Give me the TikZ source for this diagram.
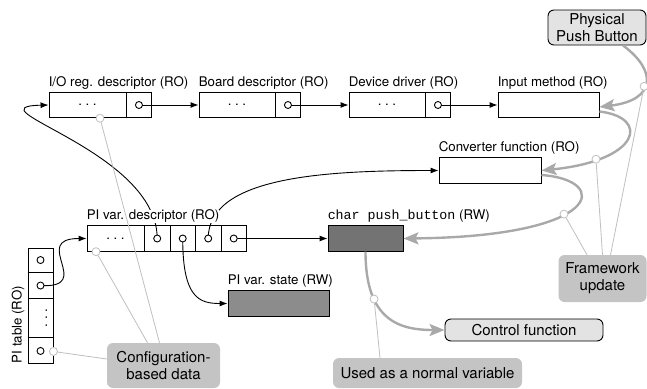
\documentclass[tikz,border=0pt]{standalone}
\usepackage{fontspec}
\setmainfont{TeX Gyre Heros}
\setmonofont{Liberation Mono}
\usetikzlibrary{arrows.meta,backgrounds}
\definecolor{fwgray}{HTML}{A9A9A9}
\definecolor{notegray}{HTML}{BFBFBF}
\definecolor{callgray}{HTML}{C4C4C4}
\definecolor{termgray}{HTML}{E3E3E3}
\definecolor{vargray}{HTML}{737373}
\definecolor{stategray}{HTML}{8C8C8C}
\newcommand{\lblsize}{\fontsize{13.3}{15}\selectfont}
\newcommand{\txtsize}{\fontsize{15}{17}\selectfont}
\newcommand{\celldots}{.\kern3.5pt.\kern3.5pt.}
\begin{document}
\begin{tikzpicture}[x=1pt,y=-1pt,
		box/.style={draw,line width=0.9pt,inner sep=0pt,minimum height=25.5pt,font=\lblsize},
		lbl/.style={anchor=base west,inner sep=0pt,font=\lblsize},
		ptr/.style={draw,circle,line width=0.9pt,fill=white,inner sep=0pt,minimum size=7pt},
		link/.style={line width=0.9pt,-{Latex[length=8pt,width=6pt]}},
		fw/.style={color=fwgray,line width=2.4pt,-{Stealth[length=15pt,width=12pt,inset=3pt]}},
		note/.style={color=notegray,line width=0.8pt},
		dot/.style={draw=notegray,line width=0.8pt,circle,fill=white,inner sep=0pt,minimum size=8pt},
		term/.style={draw,line width=0.9pt,fill=termgray,rounded corners=6pt,align=center,inner sep=0pt,font=\txtsize},
		call/.style={fill=callgray,rounded corners=6pt,align=center,inner sep=0pt,font=\txtsize}]
		\useasboundingbox (0,0) rectangle (647,388);
		\node[box,minimum width=102pt] (ioreg) at (100,105) {\celldots\kern25pt};
		\node[box,minimum width=101pt] (board) at (249.5,105) {\celldots\kern25pt};
		\node[box,minimum width=101pt] (driver) at (399.5,105) {\celldots\kern25pt};
		\node[box,minimum width=101pt] (input) at (548.5,105) {};
		\node[box,minimum width=102pt] (conv) at (490,170.5) {};
		\node[box,minimum width=159pt] (pivar) at (166.5,238.5) {\celldots\kern102pt};
		\node[box,minimum width=75pt,fill=vargray] (pushbtn) at (365.5,238.5) {};
		\node[box,minimum width=101pt,fill=stategray] (state) at (278.5,303.5) {};
		\node[box,minimum width=25pt,minimum height=115pt] (pitab) at (40.5,305.5) {};
		\foreach \n in {ioreg,board,driver}
			\draw[line width=0.9pt] ([xshift=-25pt]\n.north east) -- ([xshift=-25pt]\n.south east);
		\foreach \i in {1,...,4}
			\draw[line width=0.9pt] ([xshift=-\i*25.5pt]pivar.north east) -- ([xshift=-\i*25.5pt]pivar.south east);
		\foreach \d in {25,51,90}
			\draw[line width=0.9pt] ([yshift=-\d pt]pitab.north west) -- ([yshift=-\d pt]pitab.north east);
		\node[rotate=90,font=\lblsize] (pitab-x) at ([xshift=6pt,yshift=-70.5pt]pitab.north) {\celldots};

		\node[lbl] (ioreg-t) at ([yshift=5.5pt]ioreg.north west) {I/O reg. descriptor (RO)};
		\node[lbl] (board-t) at ([yshift=5.5pt]board.north west) {Board descriptor (RO)};
		\node[lbl] (driver-t) at ([yshift=5.5pt]driver.north west) {Device driver (RO)};
		\node[lbl] (input-t) at ([yshift=5.5pt]input.north west) {Input method (RO)};
		\node[lbl] (conv-t) at ([yshift=5.5pt]conv.north west) {Converter function (RO)};
		\node[lbl,fill=white] (pivar-t) at ([yshift=5.5pt]pivar.north west) {PI var. descriptor (RO)};
		\node[lbl] (pushbtn-t) at ([yshift=5.5pt]pushbtn.north west) {\texttt{char push\_button} (RW)};
		\node[lbl] (state-t) at ([yshift=5.5pt]state.north west) {PI var. state (RW)};
		\node[lbl,rotate=90] (pitab-t) at ([xshift=-6pt]pitab.south west) {PI table (RO)};

		\node[term,minimum width=98pt,minimum height=35pt] (phys) at (597,27.5) {Physical\\Push Button};
		\node[term,minimum width=158pt,minimum height=22pt] (ctrl) at (524,330) {Control function};
		\node[call,minimum width=88pt,minimum height=47pt] (fwupd) at (602.5,278.5) {Framework\\update};
		\node[call,minimum width=113pt,minimum height=45pt] (cfg) at (163.5,365.5) {Configuration-\\based data};
		\node[call,minimum width=189pt,minimum height=30pt] (used) at (427.5,373) {Used as a normal variable};

		\node[ptr] (io-p) at ([xshift=-12.5pt]ioreg.east) {};
		\node[ptr] (bd-p) at ([xshift=-12.5pt]board.east) {};
		\node[ptr] (dd-p) at ([xshift=-12.5pt]driver.east) {};
		\foreach \i/\n in {1/d,2/c,3/b,4/a}
			\node[ptr] (pv-\n) at ([xshift={12.75pt-\i*25.5pt}]pivar.east) {};
		\node[ptr] (tb-a) at ([yshift=-12.5pt]pitab.north) {};
		\node[ptr] (tb-b) at ([yshift=-38pt]pitab.north) {};
		\node[ptr] (tb-c) at ([yshift=12.5pt]pitab.south) {};

		\begin{pgfonlayer}{background}
			\draw[link] (io-p.center) -- (board.west);
			\draw[link] (bd-p.center) -- (driver.west);
			\draw[link] (dd-p.center) -- (input.west);
			\draw[link] (pv-d.center) -- (pushbtn.west);
			\draw[link] (tb-b.center) .. controls +(55,3) and +(-57,0) .. (pivar.west);
			\draw[link] (pv-b.center) .. controls +(0,60) and +(-28,0) .. (state.west);
			\draw[link] (pv-a.center) .. controls +(0,-88) and +(-82,2) .. (ioreg.west);
			\draw[link] (pv-c.center) .. controls +(0,-63) and +(-109,0) .. (conv.west);
		\end{pgfonlayer}

		\draw[fw] ([xshift=26pt]phys.south) .. controls +(34,25) and +(57,-7) .. ([yshift=-2pt]input.east) coordinate[pos=0.55] (fa);
		\draw[fw] ([yshift=-6.5pt]input.east) .. controls +(51,6) and +(99,-10) .. (conv.east) coordinate[pos=0.77] (fb);
		\draw[fw] ([yshift=-4.5pt]conv.east) .. controls +(70,5) and +(200,-2) .. (pushbtn.east) coordinate[pos=0.57] (fc);
		\draw[fw] (pushbtn.south) .. controls +(0,69) and +(-45,0) .. (ctrl.west) coordinate[pos=0.3] (fd);

		\node[dot] (n-io) at (ioreg.south) {};
		\node[dot] (n-pv) at ([xshift=-70.5pt]pivar.south) {};
		\node[dot] (n-tb) at ([yshift=12pt]pitab.south east) {};
		\node[dot] (n-a) at (fa) {};
		\node[dot] (n-b) at (fb) {};
		\node[dot] (n-c) at (fc) {};
		\node[dot] (n-d) at (fd) {};
		\draw[note] ([xshift=-4pt]cfg.north) -- (n-io);
		\draw[note] ([xshift=-16pt]cfg.north) -- (n-pv);
		\draw[note] ([yshift=6.5pt]cfg.west) -- (n-tb);
		\draw[note] ([xshift=-15.5pt]fwupd.north) -- (n-c);
		\draw[note] (fwupd.north) -- (n-b);
		\draw[note] ([xshift=8pt]fwupd.north) -- (n-a);
		\draw[note] ([xshift=-47.5pt]used.north) -- (n-d);
\end{tikzpicture}
\end{document}
